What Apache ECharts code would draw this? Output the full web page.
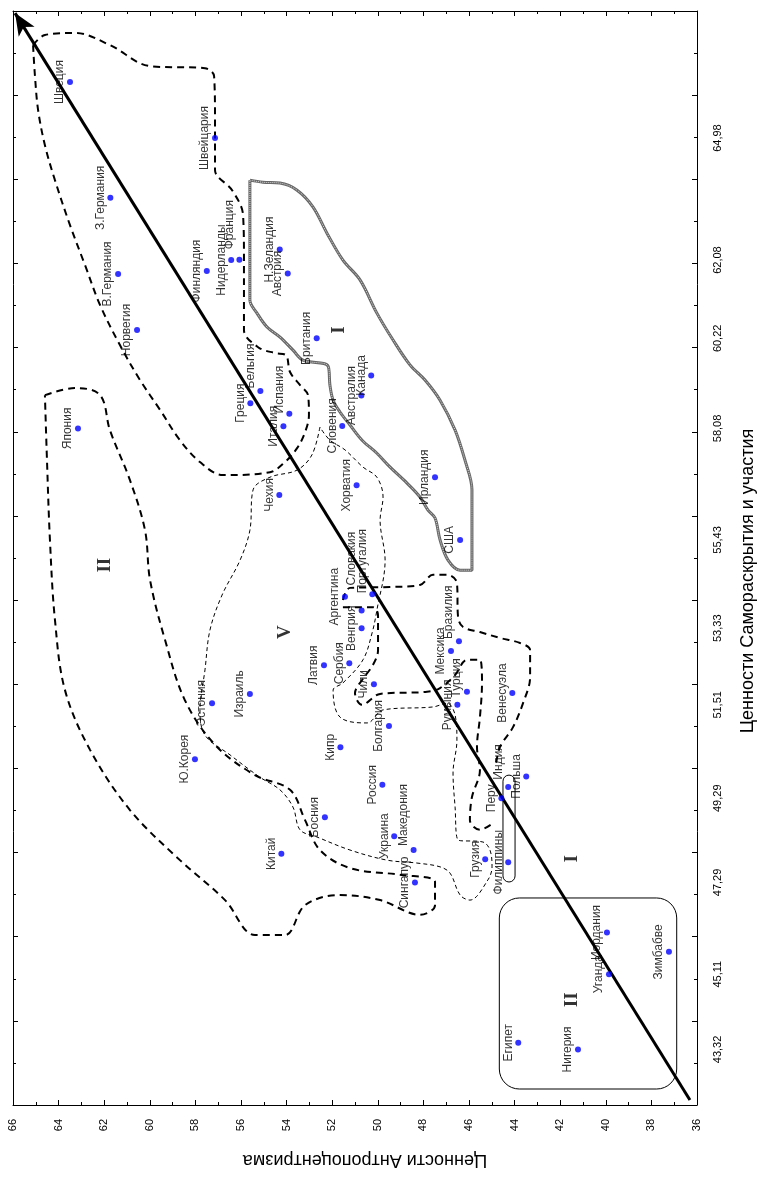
<!DOCTYPE html>
<html>
<head>
<meta charset="utf-8">
<script src="https://cdn.jsdelivr.net/npm/echarts@6/dist/echarts.min.js"></script>
<style>
  html, body { margin: 0; padding: 0; background: #fff; }
  #chart { width: 761px; height: 1182px; }
</style>
</head>
<body>
<div id="chart"></div>
<script>
// страны и их значения (X - антропоцентризм, Y - самораскрытие)
const countries = ['Швеция','Швейцария','З.Германия','В.Германия','Финляндия','Нидерланды','Франция','Н.Зеландия','Австрия','Норвегия',
  'Британия','Канада','Австралия','Бельгия','Греция','Испания','Италия','Словения','Япония','Ирландия',
  'Хорватия','Чехия','США','Аргентина','Португалия','Словакия','Венгрия','Бразилия','Мексика','Сербия',
  'Латвия','Чили','Турция','Румыния','Венесуэла','Эстония','Израиль','Болгария','Кипр','Ю.Корея',
  'Индия','Польша','Перу','Россия','Босния','Украина','Македония','Китай','Грузия','Филиппины',
  'Сингапур','Иордания','Уганда','Зимбабве','Египет','Нигерия'];
const anthropocentrism = [63.5,57.14,61.73,61.39,57.5,56.43,56.07,54.3,53.95,60.56,
  52.68,50.29,50.72,55.15,55.59,53.88,54.14,51.56,63.15,47.49,
  50.93,54.32,46.39,51.44,50.24,50.71,50.71,46.44,46.79,51.25,
  52.36,50.17,46.09,46.51,44.1,57.27,55.61,49.51,51.64,58.02,
  44.28,43.49,44.58,49.8,52.32,49.28,48.43,54.23,45.29,44.28,
  48.37,39.95,39.86,37.23,43.84,41.22];
const selfExpression = [66.31,64.98,63.56,61.75,61.82,62.08,62.09,62.33,61.76,60.42,
  60.22,59.34,58.86,58.97,58.68,58.43,58.13,58.14,58.08,56.92,
  56.73,56.5,55.43,54.08,54.14,53.75,53.33,53.02,52.79,52.5,
  52.45,52.0,51.82,51.51,51.79,51.55,51.77,51.01,50.5,50.22,
  49.56,49.81,49.29,49.61,48.84,48.39,48.06,47.97,47.84,47.77,
  47.29,46.1,45.11,45.64,43.48,43.32];
const xTicks = [36,38,40,42,44,46,48,50,52,54,56,58,60,62,64,66];
const yLabelValues = [43.32,45.11,47.29,49.29,51.51,53.33,55.43,58.08,60.22,62.08,64.98];
const yTicks = [42,44,46,48,50,52,54,56,58,60,62,64,66,68];

// контуры групп (в единицах осей)
const zoneNorth = [[65.12,67.19],[64.6,67.43],[63.28,67.48],[61.75,67.19],[59.99,66.69],[57.58,66.64],[57.18,66.45],[57.14,65.41],[57.14,64.22],[56.39,63.74],[55.91,63.15],[55.87,62.08],[55.87,60.42],[55.25,60.01],[54.51,59.87],[54.03,59.82],[53.85,59.42],[53.41,59.11],[53.06,58.87],[53.02,58.4],[53.19,57.99],[53.54,57.61],[54.07,57.28],[54.73,57.04],[56.79,56.97],[57.8,57.28],[58.68,57.8],[59.55,58.52],[60.43,59.23],[61.31,60.06],[62.18,61.01],[62.84,61.96],[63.5,62.91],[64.16,63.98],[64.6,64.81],[64.9,65.65],[65.04,66.48],[65.12,67.19]];
const zoneEnglish = [[55.61,63.98],[55.04,63.93],[54.29,63.91],[53.54,63.74],[52.84,63.34],[52.23,62.72],[51.53,62.08],[50.78,61.61],[50.04,60.82],[49.33,60.18],[48.59,59.59],[47.93,59.23],[47.27,58.75],[46.61,58.04],[46.18,57.33],[45.87,56.62],[45.87,56.14],[45.87,54.71],[46.39,54.71],[46.92,54.95],[47.27,55.43],[47.49,55.95],[47.8,56.14],[48.15,56.45],[48.72,56.78],[49.46,57.16],[50.04,57.49],[50.69,57.8],[51.22,58.16],[51.66,58.47],[51.96,58.75],[52.1,59.11],[52.18,59.56],[53.28,59.7],[53.72,59.94],[54.29,60.25],[54.86,60.49],[55.3,60.82],[55.61,61.13],[55.61,63.98]];
const zoneEast = [[64.6,58.87],[63.28,59.04],[62.18,58.87],[61.75,58.04],[60.87,56.85],[60.21,55.66],[59.99,54.48],[59.33,53.05],[58.46,51.62],[57.14,50.56],[55.39,49.84],[53.85,49.49],[53.19,48.77],[52.54,48.06],[51.22,47.63],[49.03,47.47],[47.49,47.3],[47.49,46.75],[48.15,46.52],[49.9,46.87],[51.66,46.99],[53.19,46.75],[54.07,46.04],[55.39,46.04],[56.7,46.87],[58.68,47.82],[60.87,49.01],[62.62,50.44],[63.72,51.86],[64.16,53.53],[64.38,55.43],[64.51,57.33],[64.6,58.87]];
const zonePost = [[52.54,58.11],[52.89,57.45],[53.54,57.09],[54.73,56.92],[55.47,56.62],[55.61,55.66],[56.04,54.95],[56.83,54.12],[57.36,53.29],[57.58,52.34],[57.8,51.39],[57.58,50.79],[56.48,50.32],[55.17,49.79],[54.29,49.49],[53.72,49.08],[53.41,48.54],[52.67,48.37],[51.22,48.06],[49.6,47.82],[48.28,47.75],[47.27,47.66],[46.83,47.51],[46.39,46.99],[45.96,46.87],[45.17,47.35],[44.99,47.66],[45.08,48.06],[45.39,48.25],[46.48,48.3],[46.61,49.08],[46.7,49.89],[46.53,50.67],[46.61,51.27],[46.96,51.55],[47.58,51.46],[49.77,51.39],[50.47,51.08],[51.66,51.22],[51.96,51.86],[51.53,52.03],[50.65,52.58],[50.25,53.22],[50.04,53.76],[49.68,54.95],[49.9,55.9],[49.77,56.45],[50.04,56.92],[50.65,57.16],[51.44,57.57],[52.1,57.8],[52.54,58.11]];
const zoneLatinOuter = [[51.53,54.0],[51.22,54.29],[49.46,54.31],[48.15,54.36],[47.58,54.6],[46.96,54.6],[46.53,54.41],[46.48,53.6],[46.26,53.36],[45.52,53.24],[44.64,53.1],[43.76,52.98],[43.32,52.81],[43.32,52.17],[43.63,51.55],[44.07,50.98],[44.64,50.51],[44.82,50.08]];
const zoneLatinInner = [[51.53,53.83],[50.21,53.83],[49.99,53.64],[49.99,52.81],[50.21,52.46],[50.69,52.1],[51.0,51.79],[50.69,51.51],[49.9,51.77],[47.84,51.82],[47.27,51.91],[46.61,52.22],[46.09,52.58],[45.52,52.58],[45.43,52.03],[45.52,51.22],[45.65,50.51],[45.52,49.96],[45.87,49.32],[45.96,48.77],[45.52,48.54],[44.99,48.68]];
// прямоугольники: [x1, y1, x2, y2]
const boxes = [[44.67,46.92,36.89,42.38],[44.51,49.84,43.98,47.3]];
const trendLine = [[36.31,42.12],[65.91,67.95]];
const numerals = [['I',51.7,60.42],['I',41.5,47.85],['II',61.96,54.83],['V',54.07,53.24],['II',41.5,44.5]];

// сдвиг подписей вверх (px)
const labelShift = {'Франция':35,'Бельгия':25,'Испания':24,'Бразилия':29,'Индия':25,'Португалия':33,'Словакия':52,'Турция':14,'Македония':35};

const chart = echarts.init(document.getElementById('chart'));
const FONT = 'Liberation Sans, Arial, sans-serif';

const points = countries.map((name, i) => {
  const item = { name: name, value: [anthropocentrism[i], selfExpression[i]] };
  if (labelShift[name]) item.label = { offset: [labelShift[name], 0] };
  return item;
});

function outline(data, width, dash, color) {
  return {
    type: 'line', data: data, showSymbol: false, smooth: 0.35, silent: true,
    lineStyle: { color: color || '#000', width: width, type: dash },
    z: 2
  };
}

const axisCommon = {
  type: 'value',
  axisLine: { onZero: false, lineStyle: { color: '#000', width: 1 } },
  axisTick: { inside: true, length: 5, lineStyle: { color: '#000' } },
  minorTick: { show: true, splitNumber: 2, length: 3, lineStyle: { color: '#000' } },
  splitLine: { show: false },
  minorSplitLine: { show: false }
};

chart.setOption({
  animation: false,
  backgroundColor: '#fff',
  grid: { left: 13, right: 64, top: 11, bottom: 77, containLabel: false, outerBoundsMode: 'none' },
  xAxis: [
    Object.assign({}, axisCommon, {
      position: 'bottom', inverse: true, min: 36, max: 66, interval: 2,
      axisLabel: { rotate: 90, margin: 14, fontSize: 11, color: '#000', fontFamily: FONT,
        customValues: xTicks }
    }),
    Object.assign({}, axisCommon, {
      position: 'top', inverse: true, min: 36, max: 66, interval: 2,
      axisLabel: { show: false }
    })
  ],
  yAxis: [
    Object.assign({}, axisCommon, {
      position: 'right', min: 42, max: 68, interval: 2,
      axisTick: { inside: true, length: 5, lineStyle: { color: '#000' }, customValues: yTicks },
      axisLabel: { rotate: 90, margin: 15, fontSize: 11, color: '#000', fontFamily: FONT,
        customValues: yLabelValues,
        formatter: v => v.toFixed(2).replace('.', ',') }
    }),
    Object.assign({}, axisCommon, {
      position: 'left', min: 42, max: 68, interval: 2,
      axisLabel: { show: false }
    })
  ],
  graphic: [
    { type: 'text', x: 748, y: 581, rotation: Math.PI / 2,
      style: { text: 'Ценности Самораскрытия и участия', font: '18px ' + FONT, fill: '#000',
        textAlign: 'center', textVerticalAlign: 'middle' } },
    { type: 'text', x: 365, y: 1160, rotation: Math.PI,
      style: { text: 'Ценности Антропоцентризма', font: '18px ' + FONT, fill: '#000',
        textAlign: 'center', textVerticalAlign: 'middle' } }
  ],
  series: [
    outline(zoneNorth, 2, [7, 5]),
    outline(zoneEast, 2, [7, 5]),
    outline(zoneLatinOuter, 2, [7, 5]),
    outline(zoneLatinInner, 2, [7, 5]),
    outline(zonePost, 1, [4, 3]),
    outline(zoneEnglish, 3, 'solid', '#666'),
    outline(zoneEnglish, 1, [1, 1], '#ddd'),
    {
      type: 'custom', coordinateSystem: 'cartesian2d', data: boxes, silent: true, z: 2,
      encode: { x: [0, 2], y: [1, 3] },
      renderItem: (params, api) => {
        const p1 = api.coord([api.value(0), api.value(1)]);
        const p2 = api.coord([api.value(2), api.value(3)]);
        const w = Math.abs(p2[0] - p1[0]), h = Math.abs(p2[1] - p1[1]);
        return {
          type: 'rect',
          shape: { x: Math.min(p1[0], p2[0]), y: Math.min(p1[1], p2[1]), width: w, height: h,
            r: params.dataIndex === 0 ? 20 : Math.min(w, h) / 2 },
          style: { fill: 'none', stroke: '#000', lineWidth: 1 }
        };
      }
    },
    {
      type: 'scatter', data: numerals.map(n => ({ name: n[0], value: [n[1], n[2]] })),
      symbolSize: 0, silent: true, z: 3,
      label: { show: true, position: 'inside', formatter: '{b}', rotate: 90,
        fontFamily: 'Liberation Serif, serif', fontWeight: 'bold', fontSize: 19, color: '#000' }
    },
    {
      type: 'scatter', data: points, symbol: 'circle', symbolSize: 6, z: 5,
      itemStyle: { color: '#0000ff' },
      label: { show: true, formatter: '{b}', position: 'left', distance: 1, rotate: 90,
        align: 'center', verticalAlign: 'bottom', fontSize: 12, fontFamily: FONT, color: '#000' },
      markLine: {
        silent: true, symbol: ['none', 'arrow'], symbolSize: [14, 22], label: { show: false },
        lineStyle: { color: '#000', width: 3, type: 'solid' },
        data: [[{ coord: trendLine[0] }, { coord: trendLine[1] }]]
      }
    }
  ]
});
</script>
</body>
</html>
